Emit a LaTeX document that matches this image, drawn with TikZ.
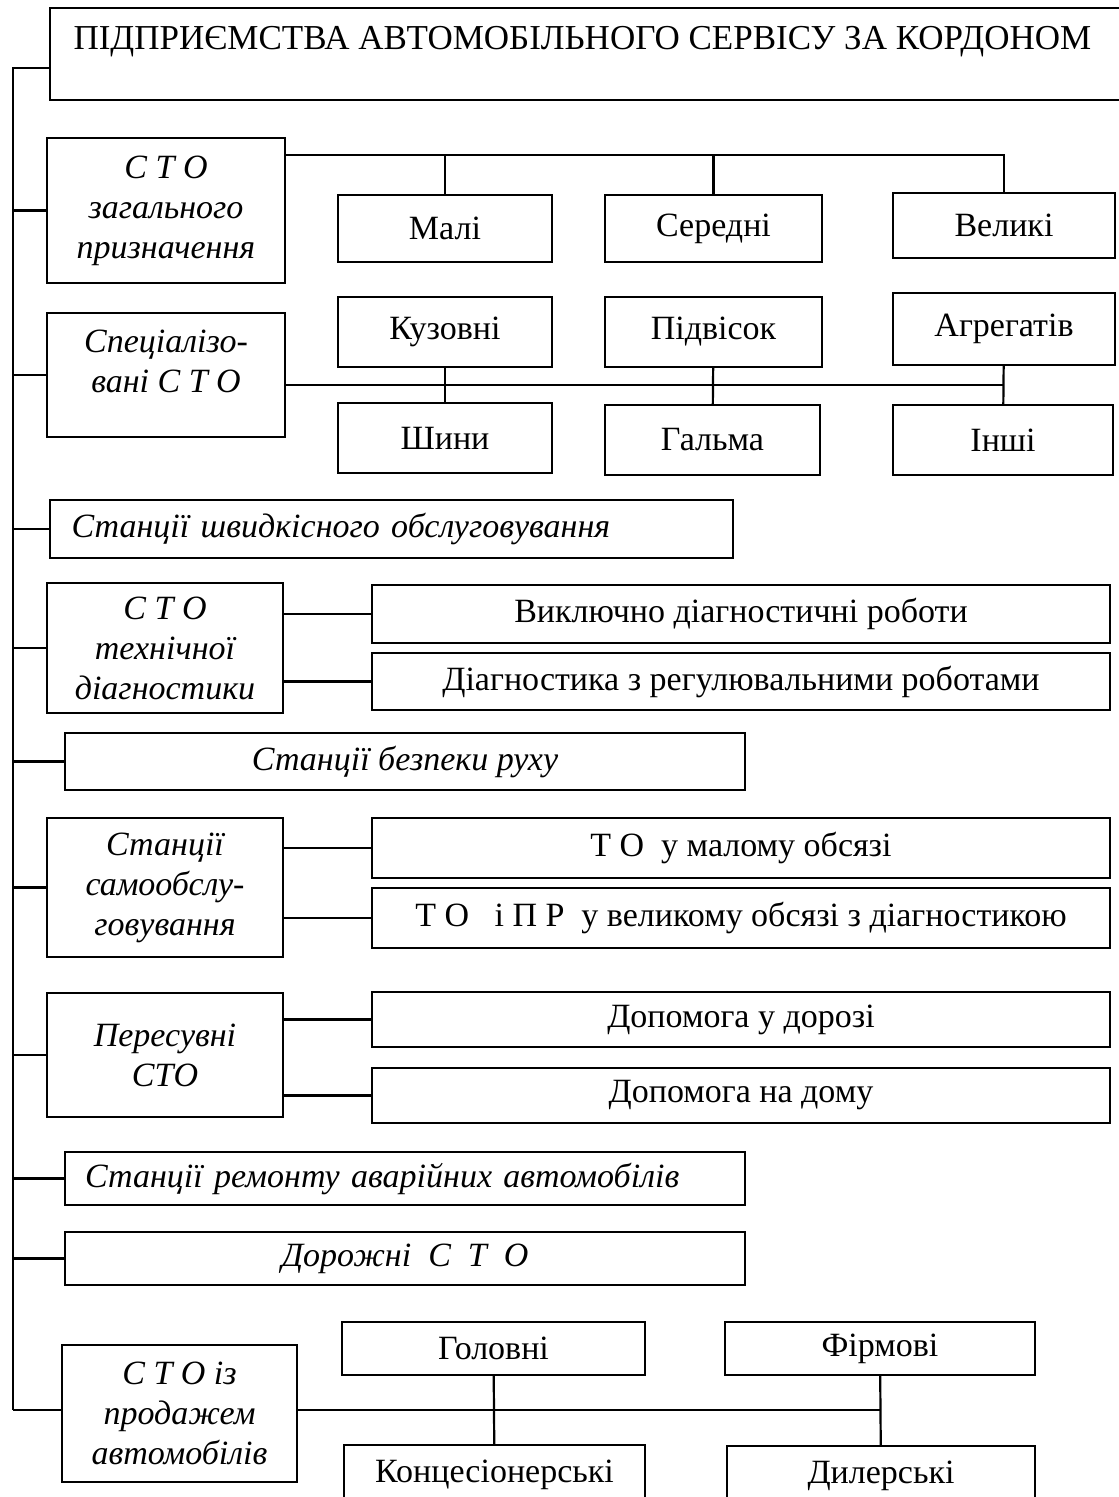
\documentclass[tikz,border=0pt]{standalone}
\usepackage{fontspec}
\setmainfont{Liberation Serif}
\usepackage{tikz}
\usetikzlibrary{positioning}
\tikzset{
  box/.style={draw, line width=2.2pt, inner sep=2pt, align=center,
    font=\fontsize{34}{40}\selectfont},
  kind/.style={box, font=\fontsize{34}{40}\selectfont\itshape},
  link/.style={line width=2.2pt}
}

\begin{document}
\begin{tikzpicture}[x=1pt,y=-1pt]
    \useasboundingbox (0,0) rectangle (1119,1497);
    % title and spine
    \node[box, minimum width=1075, minimum height=92](title) at (587.5,54) {};
    \node[anchor=west, font=\fontsize{35}{40}\selectfont](titletext) at (70,42)
        {ПІДПРИЄМСТВА АВТОМОБІЛЬНОГО СЕРВІСУ ЗА КОРДОНОМ};
    \coordinate (top) at (13,68);
    \coordinate (bot) at (13,1410);
    \draw[link] (top -| title.west) -- (top) -- (bot);

    % general purpose
    \node[kind, minimum width=238, minimum height=145](gen) at (166,210.5) {С Т О\\загального\\призначення};
    \node[box, minimum width=214, minimum height=67](mali) at (445,228.5) {Малі};
    \node[box, minimum width=217, minimum height=67](seredni) at (713.5,228.5) {Середні};
    \node[box, minimum width=222, minimum height=65](veliki) at (1004,225.5) {Великі};
    \draw[link] (gen.east |- 0,155) -| (veliki.north);
    \draw[link] (mali.north) -- (mali.north |- 0,155);
    \draw[link] (seredni.north) -- (seredni.north |- 0,155);

    % specialised
    \node[kind, minimum width=238, minimum height=124, text depth=27pt](spec) at (166,375) {Спеціалізо-\\вані С Т О};
    \node[box, minimum width=214, minimum height=70](kuz) at (445,332) {Кузовні};
    \node[box, minimum width=214, minimum height=70](shyny) at (445,438) {Шини};
    \node[box, minimum width=217, minimum height=70](pidv) at (713.5,332) {Підвісок};
    \node[box, minimum width=215, minimum height=70](halma) at (712.5,440) {Гальма};
    \node[box, minimum width=222, minimum height=72](agr) at (1004,329) {Агрегатів};
    \node[box, minimum width=220, minimum height=70](inshi) at (1003,440) {Інші};
    \draw[link] (spec.east |- 0,385) -- (agr.south |- 0,385);
    \draw[link] (kuz) -- (shyny);
    \draw[link] (pidv) -- (halma);
    \draw[link] (agr) -- (inshi);

    \node[kind, minimum width=683, minimum height=58, text width=640, align=left](shvyd) at (391.5,529)
        {Станції швидкісного обслуговування};

    % diagnostics
    \node[kind, minimum width=236, minimum height=130](diag) at (165,648) {С Т О\\технічної\\діагностики};
    \node[box, minimum width=738, minimum height=58](vykl) at (741,614) {Виключно діагностичні роботи};
    \node[box, minimum width=738, minimum height=57](diagreg) at (741,681.5) {Діагностика з регулювальними роботами};
    \draw[link] (vykl.west -| diag.east) -- (vykl.west);
    \draw[link] (diagreg.west -| diag.east) -- (diagreg.west);

    \node[kind, minimum width=680, minimum height=57](bezp) at (405,761.5) {Станції безпеки руху};

    % self service
    \node[kind, minimum width=236, minimum height=139](samo) at (165,887.5) {Станції\\самообслу-\\говування};
    \node[box, minimum width=738, minimum height=60](tomal) at (741,848) {Т~О~~у малому обсязі};
    \node[box, minimum width=738, minimum height=60](topr) at (741,918) {Т~О~~~і П~Р~~у великому обсязі з діагностикою};
    \draw[link] (tomal.west -| samo.east) -- (tomal.west);
    \draw[link] (topr.west -| samo.east) -- (topr.west);

    % mobile
    \node[kind, minimum width=236, minimum height=124](peres) at (165,1055) {Пересувні\\СТО};
    \node[box, minimum width=738, minimum height=55](dor) at (741,1019.5) {Допомога у дорозі};
    \node[box, minimum width=738, minimum height=55](dom) at (741,1095.5) {Допомога на дому};
    \draw[link] (dor.west -| peres.east) -- (dor.west);
    \draw[link] (dom.west -| peres.east) -- (dom.west);

    \node[kind, minimum width=680, minimum height=53, text width=640, align=left](avar) at (405,1178.5)
        {Станції ремонту аварійних автомобілів};
    \node[kind, minimum width=680, minimum height=53](dorozh) at (405,1258.5) {Дорожні~~С~~Т~~О};

    % sales
    \node[kind, minimum width=235, minimum height=137](prod) at (179.5,1413.5) {С Т О із\\продажем\\автомобілів};
    \node[box, minimum width=303, minimum height=53](holov) at (493.5,1348.5) {Головні};
    \node[box, minimum width=301, minimum height=60](konc) at (494.5,1475) {Концесіонерські};
    \node[box, minimum width=310, minimum height=53](firm) at (880,1348.5) {Фірмові};
    \node[box, minimum width=308, minimum height=60](dyler) at (881,1476) {Дилерські};
    \draw[link] (prod.east |- bot) -- (firm.south |- bot);
    \draw[link] (holov) -- (konc);
    \draw[link] (firm) -- (dyler);

    % ties to the spine
    \foreach \n in {gen,spec,shvyd,diag,bezp,samo,peres,avar,dorozh}
        \draw[link] (\n.west -| top) -- (\n.west);
    \draw[link] (bot) -- (prod.west |- bot);
\end{tikzpicture}
\end{document}
